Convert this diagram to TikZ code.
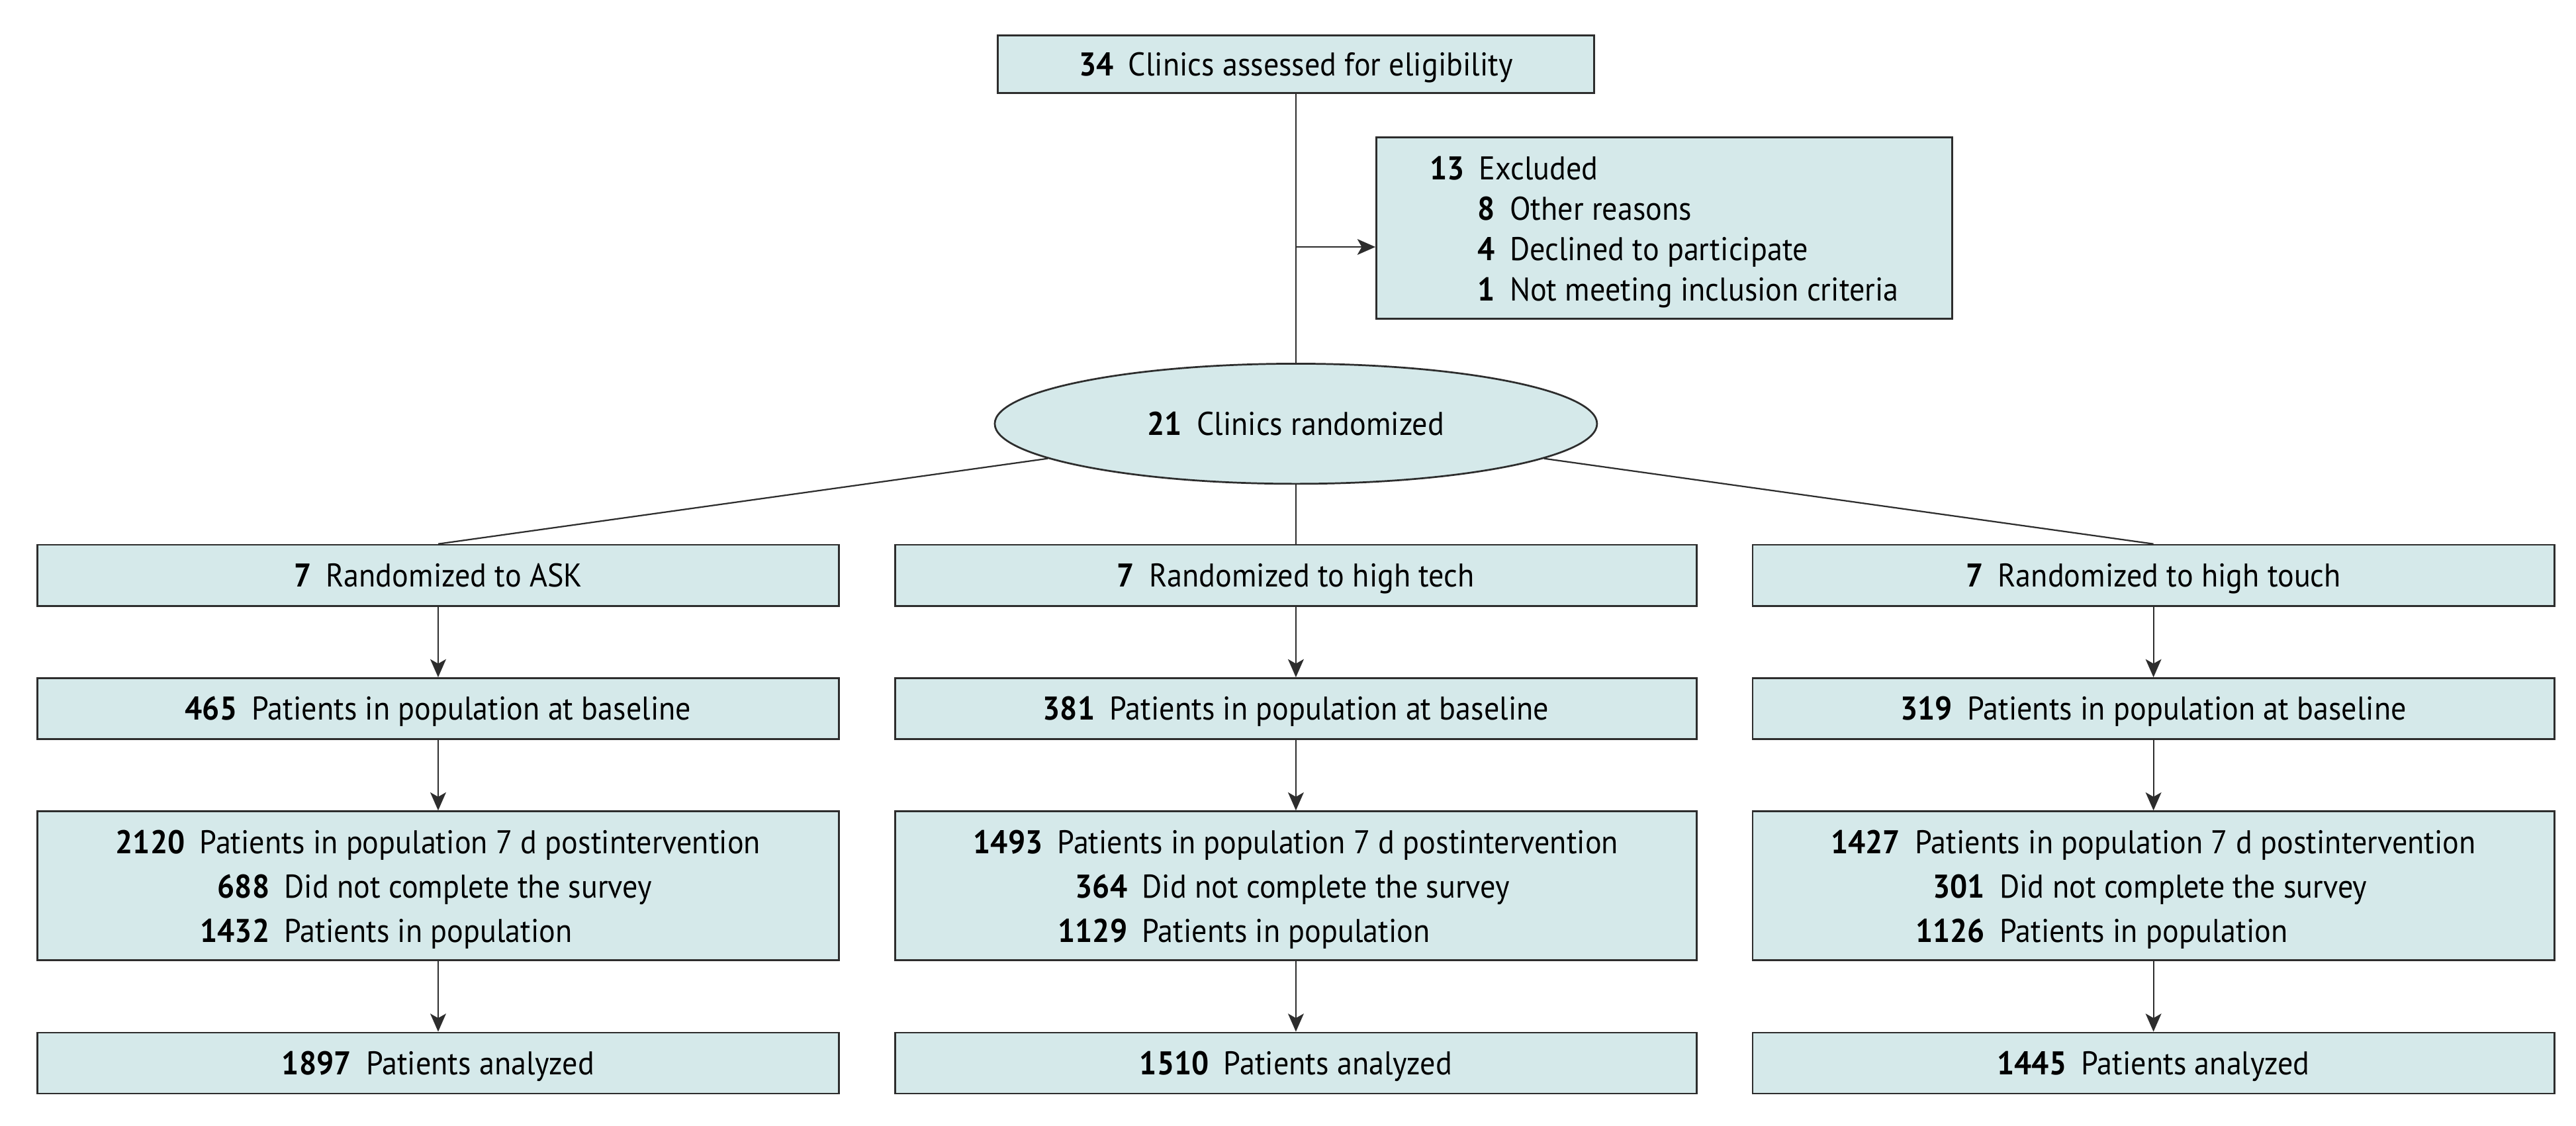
\documentclass[tikz,border=0pt]{standalone}
\usepackage{fontspec}
\setmainfont{PT Sans}[FakeStretch=0.93]
\usetikzlibrary{shapes.geometric,arrows.meta}
\definecolor{boxfill}{RGB}{213,233,234}
\definecolor{boxline}{RGB}{45,45,45}
\newcommand\gp{\hspace{9pt}}
\newcommand\nt[2]{\textbf{#1}\gp #2}
\newcommand\threel[6]{%
  \begin{tabular}{@{}l@{}}
  \rule{0pt}{22.9pt}\nt{#1}{#2}\\
  \hphantom{\textbf{#1}\gp}\hspace{51.5pt}\llap{\textbf{#3}\gp}#4\\
  \hphantom{\textbf{#1}\gp}\hspace{51.5pt}\llap{\textbf{#5}\gp}#6
  \end{tabular}}
\begin{document}
\begin{tikzpicture}[x=1pt,y=-1pt,
  box/.style={draw=boxline,fill=boxfill,line width=1.1pt,inner sep=0pt,
    font=\fontsize{20}{27}\selectfont},
  one/.style={box,text height=14pt,text depth=0pt,minimum width=488pt,minimum height=37.1pt},
  conn/.style={draw=boxline,line width=0.9pt},
  arr/.style={conn,-{Stealth[length=11pt,width=9.6pt,inset=2.7pt]}}]
\useasboundingbox (0,0) rectangle (1568,685);
\fill[white] (0,0) rectangle (1568,685);

\node[box,text height=14pt,text depth=0pt,minimum width=363pt,minimum height=35pt] (top) at (788.8,39) {\nt{34}{Clinics assessed for eligibility}};

\node[box,minimum width=350.5pt,minimum height=110.5pt,font=\fontsize{20}{24.6}\selectfont] (excl) at (1013,138.7) {%
  \begin{tabular}{@{}l@{}}
  \rule{0pt}{22.2pt}\nt{13}{Excluded}\\
  \hphantom{\textbf{13}}\hspace{18.6pt}\llap{\textbf{8}}\gp Other reasons\\
  \hphantom{\textbf{13}}\hspace{18.6pt}\llap{\textbf{4}}\gp Declined to participate\\
  \hphantom{\textbf{13}}\hspace{18.6pt}\llap{\textbf{1}}\gp Not meeting inclusion criteria
  \end{tabular}};

\node[box,ellipse,text height=14pt,text depth=0pt,minimum width=366.6pt,minimum height=73.1pt] (rand) at (788.8,257.9) {\nt{21}{Clinics randomized}};

% row 1
\node[one] (ask)   at (266.7,350.15) {\nt{7}{Randomized to ASK}};
\node[one] (tech)  at (788.8,350.15) {\nt{7}{Randomized to high tech}};
\node[one] (touch) at (1310.8,350.15) {\nt{7}{Randomized to high touch}};
% row 2
\node[one] (askb)   at (266.7,431.3) {\nt{465}{Patients in population at baseline}};
\node[one] (techb)  at (788.8,431.3) {\nt{381}{Patients in population at baseline}};
\node[one] (touchb) at (1310.8,431.3) {\nt{319}{Patients in population at baseline}};
% row 3
\node[box,minimum width=488pt,minimum height=90.7pt] (askp) at (266.7,539.15)
  {\threel{2120}{Patients in population 7 d postintervention}{688}{Did not complete the survey}{1432}{Patients in population}};
\node[box,minimum width=488pt,minimum height=90.7pt] (techp) at (788.8,539.15)
  {\threel{1493}{Patients in population 7 d postintervention}{364}{Did not complete the survey}{1129}{Patients in population}};
\node[box,minimum width=488pt,minimum height=90.7pt] (touchp) at (1310.8,539.15)
  {\threel{1427}{Patients in population 7 d postintervention}{301}{Did not complete the survey}{1126}{Patients in population}};
% row 4
\node[one] (aska)   at (266.7,647) {\nt{1897}{Patients analyzed}};
\node[one] (techa)  at (788.8,647) {\nt{1510}{Patients analyzed}};
\node[one] (toucha) at (1310.8,647) {\nt{1445}{Patients analyzed}};

% connectors
\draw[conn] (top.south) -- (rand.north);
\coordinate (br) at (788.8,150.3);
\draw[arr] (br) -- (br -| excl.west);
\draw[conn] (rand) -- (ask.north);
\draw[conn] (rand.south) -- (tech.north);
\draw[conn] (rand) -- (touch.north);
\foreach \c in {ask,tech,touch}{
  \draw[arr] (\c.south) -- (\c b.north);
  \draw[arr] (\c b.south) -- (\c p.north);
  \draw[arr] (\c p.south) -- (\c a.north);
}
\end{tikzpicture}
\end{document}
